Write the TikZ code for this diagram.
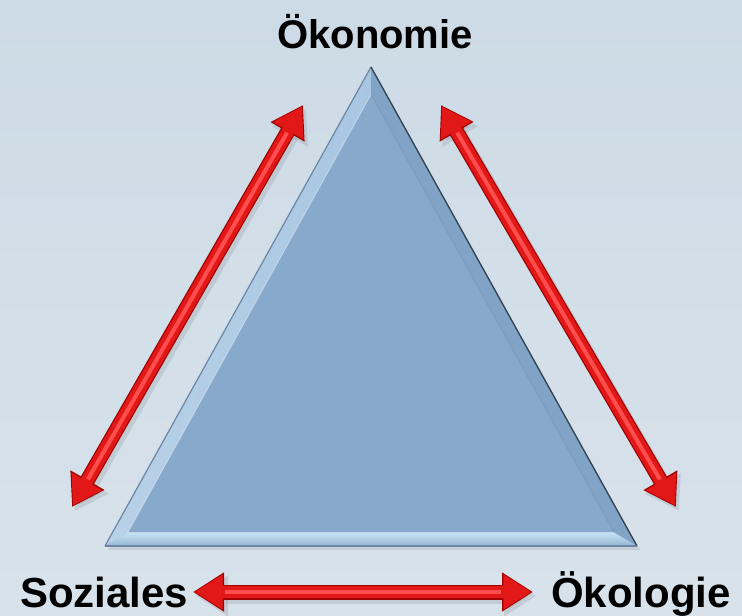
\documentclass[tikz,border=0pt]{standalone}
\usepackage{fontspec}
\setmainfont{Liberation Sans}
\usetikzlibrary{arrows.meta,calc}

\definecolor{bgtop}{RGB}{205,219,230}
\definecolor{bgbot}{RGB}{216,226,235}
\definecolor{face}{RGB}{135,169,204}
\definecolor{bevleft}{RGB}{168,198,226}
\definecolor{bevright}{RGB}{128,163,198}
\definecolor{bevlow}{RGB}{196,226,246}
\definecolor{bevlowdark}{RGB}{150,182,210}
\definecolor{edgedark}{RGB}{50,64,80}
\definecolor{edgesoft}{RGB}{105,135,165}
\definecolor{arrdark}{RGB}{160,0,0}
\definecolor{arrmid}{RGB}{226,24,24}
\definecolor{arrlight}{RGB}{255,78,78}

\tikzset{
  x=1pt, y=-1pt,
  caption/.style={font=\bfseries\fontsize{42}{48}\selectfont, inner sep=0pt},
  arrshadow/.style={line width=16pt, draw=black, opacity=0.09,
    {Triangle[length=32pt,width=39pt]}-{Triangle[length=32pt,width=39pt]}},
  arrrim/.style={line width=15pt, draw=arrdark,
    {Triangle[length=31pt,width=37pt]}-{Triangle[length=31pt,width=37pt]}},
  arrbody/.style={line width=12.5pt, draw=arrmid, shorten <=1.6pt, shorten >=1.6pt,
    {Triangle[length=28pt,width=33pt]}-{Triangle[length=28pt,width=33pt]}},
  arrshine/.style={line width=4pt, draw=arrlight, shorten <=32pt, shorten >=32pt},
}

\begin{document}
\begin{tikzpicture}
  % background
  \shade[top color=bgtop, bottom color=bgbot] (0,0) rectangle (742,616);
  \useasboundingbox (0,0) rectangle (742,616);

  % triangle corners, incentre and inner (bevel) corners
  \coordinate (A) at (371,67);
  \coordinate (B) at (105,546);
  \coordinate (C) at (637,546);
  \coordinate (I) at (371,389.5);
  \coordinate (a) at ($(I)!0.915!(A)$);
  \coordinate (b) at ($(I)!0.915!(B)$);
  \coordinate (c) at ($(I)!0.915!(C)$);

  % soft shadow of the triangle
  \fill[black, opacity=0.08] ($(A)+(3,4)$) -- ($(B)+(3,4)$) -- ($(C)+(3,4)$) -- cycle;

  % face and bevels
  \fill[face] (A) -- (B) -- (C) -- cycle;
  \shade[left color=bevleft!80!white, right color=bevleft] (A) -- (B) -- (b) -- (a) -- cycle;
  \fill[bevright] (A) -- (C) -- (c) -- (a) -- cycle;
  \shade[top color=bevlow, bottom color=bevlowdark] (B) -- (C) -- (c) -- (b) -- cycle;
  \draw[white, opacity=0.35, line width=1pt] (a) -- (b) -- (c);
  \draw[face!85!black, opacity=0.5, line width=0.8pt] (a) -- (c);

  % outer edges
  \draw[edgesoft, line width=1.2pt, line join=round] (B) -- (A);
  \draw[edgedark, line width=1.3pt, line join=round] (A) -- (C);
  \draw[edgesoft, line width=1.2pt] (B) -- (C);

  % captions
  \node[caption, font=\bfseries\fontsize{40}{46}\selectfont, anchor=base] (oeko) at (375,48) {Ökonomie};
  \node[caption, anchor=base west] (soz) at (20,607) {Soziales};
  \node[caption, anchor=base east] (umw) at (731,607) {Ökologie};

  % arrow end points
  \coordinate (l1) at (303,105);
  \coordinate (l2) at (72,507);
  \coordinate (r1) at (441,105);
  \coordinate (r2) at (676,507);
  \coordinate (b1) at (193,592);
  \coordinate (b2) at (533,592);

  % double arrows
  \foreach \p/\q in {l1/l2, r1/r2, b1/b2}{
    \draw[arrshadow] ($(\p)+(3,4)$) -- ($(\q)+(3,4)$);
    \draw[arrrim] (\p) -- (\q);
    \draw[arrbody] (\p) -- (\q);
    \draw[arrshine] (\p) -- (\q);
  }
\end{tikzpicture}
\end{document}
